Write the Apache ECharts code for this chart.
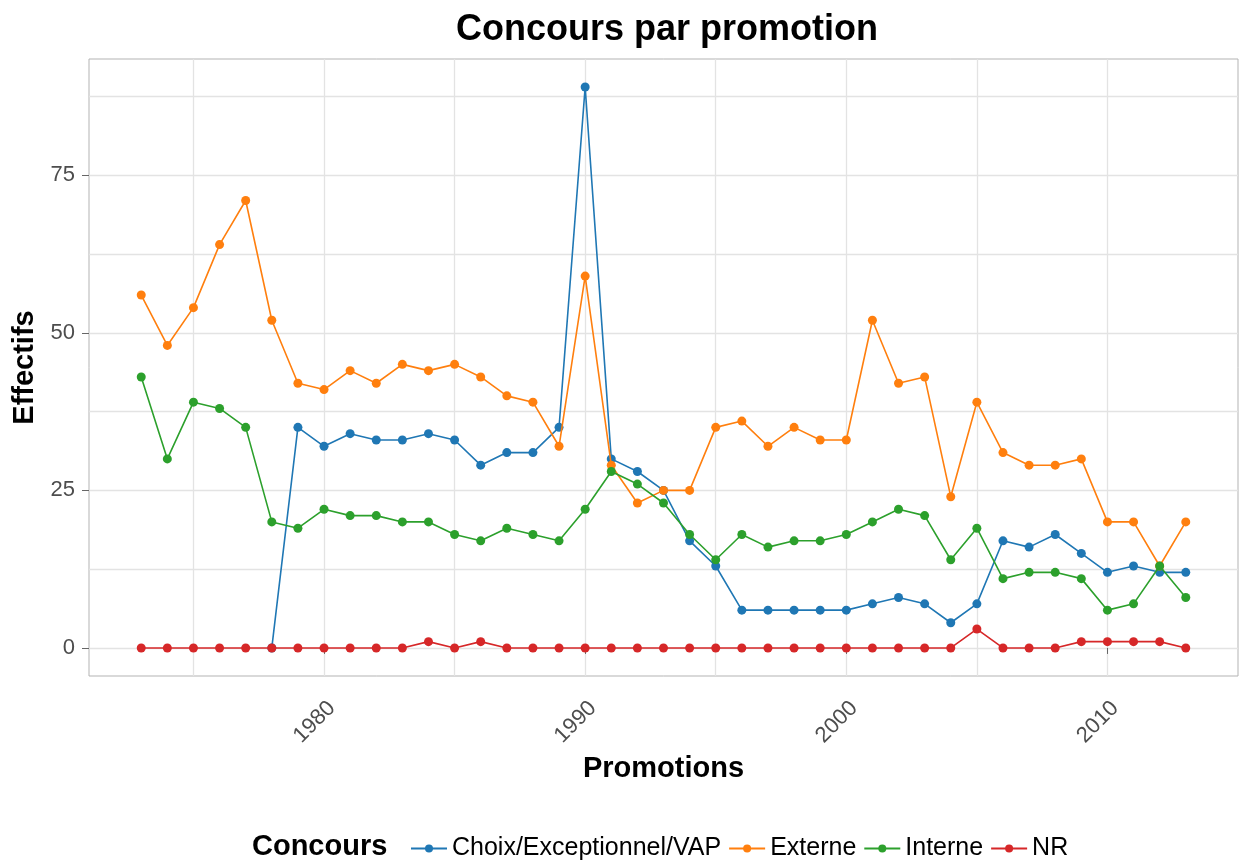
<!DOCTYPE html>
<html>
<head>
<meta charset="utf-8">
<script src="https://cdn.jsdelivr.net/npm/echarts@6/dist/echarts.min.js"></script>
<style>html,body{margin:0;padding:0;background:#fff}#c{width:1239px;height:863px}</style>
</head>
<body>
<div id="c"></div>
<script>
const years = [1973,1974,1975,1976,1977,1978,1979,1980,1981,1982,1983,1984,1985,1986,1987,1988,1989,1990,1991,1992,1993,1994,1995,1996,1997,1998,1999,2000,2001,2002,2003,2004,2005,2006,2007,2008,2009,2010,2011,2012,2013];
const choix = [null,null,null,null,null,0,35,32,34,33,33,34,33,29,31,31,35,89,30,28,25,17,13,6,6,6,6,6,7,8,7,4,7,17,16,18,15,12,13,12,12];
const externe = [56,48,54,64,71,52,42,41,44,42,45,44,45,43,40,39,32,59,29,23,25,25,35,36,32,35,33,33,52,42,43,24,39,31,29,29,30,20,20,13,20];
const interne = [43,30,39,38,35,20,19,22,21,21,20,20,18,17,19,18,17,22,28,26,23,18,14,18,16,17,17,18,20,22,21,14,19,11,12,12,11,6,7,13,8];
const nr = [0,0,0,0,0,0,0,0,0,0,0,1,0,1,0,0,0,0,0,0,0,0,0,0,0,0,0,0,0,0,0,0,3,0,0,0,1,1,1,1,0];
const seriesNames = ['Choix/Exceptionnel/VAP','Externe','Interne','NR'];
const colors = ['#1f77b4','#ff7f0e','#2ca02c','#d62728'];
const xMajorTicks = [1980,1990,2000,2010];
const xGridTicks = [1975,1980,1985,1990,1995,2000,2005,2010];
const yMajorTicks = [0,25,50,75];
const yGridTicks = [0,12.5,25,37.5,50,62.5,75,87.5];

const FONT = 'Liberation Sans, Arial, sans-serif';
const allSeries = [choix, externe, interne, nr];
const chart = echarts.init(document.getElementById('c'), null, {renderer:'canvas'});
const tickColor = '#4d4d4d';
const option = {
  animation: false,
  backgroundColor: '#fff',
  title: [
    {text:'Concours par promotion', left: 662, top: 7, textAlign:'center',
     textStyle:{fontFamily:FONT, fontSize:36, fontWeight:'bold', color:'#000'}},
    {text:'Concours', left: 247, top: 827,
     textStyle:{fontFamily:FONT, fontSize:29, fontWeight:'bold', color:'#000'}}
  ],
  legend: {
    left: 405, top: 831,
    itemWidth: 36, itemHeight: 10, itemGap: 7,
    textStyle:{fontFamily:FONT, fontSize:25, color:'#000'},
    data: seriesNames
  },
  grid: {left: 89, right: 1, top: 59, bottom: 187, show: true, borderColor:'#b3b3b3', borderWidth:1, containLabel:false},
  xAxis: [
    {type:'value', min:1971, max:2015, gridIndex:0, position:'bottom',
     axisLine:{show:false}, axisTick:{show:false, customValues:xGridTicks},
     axisLabel:{show:false},
     splitLine:{show:true, lineStyle:{color:'#e3e3e3', width:1.3}}},
    {type:'value', min:1971, max:2015, gridIndex:0, position:'bottom',
     axisLine:{show:false},
     axisTick:{show:true, length:6, customValues:xMajorTicks, lineStyle:{color:'#666'}},
     axisLabel:{show:true, customValues:xMajorTicks, rotate:45, verticalAlign:'top', fontFamily:FONT, fontSize:22, color:tickColor, margin:21,
       formatter: v => String(v)},
     splitLine:{show:false},
     name:'Promotions', nameLocation:'middle', nameGap:78,
     nameTextStyle:{fontFamily:FONT, fontSize:29, fontWeight:'bold', color:'#000'}}
  ],
  yAxis: [
    {type:'value', min:-4.45, max:93.45, gridIndex:0, position:'left',
     axisLine:{show:false}, axisTick:{show:false, customValues:yGridTicks},
     axisLabel:{show:false},
     splitLine:{show:true, lineStyle:{color:'#e3e3e3', width:1.3}}},
    {type:'value', min:-4.45, max:93.45, gridIndex:0, position:'left',
     axisLine:{show:false},
     axisTick:{show:true, length:7, customValues:yMajorTicks, lineStyle:{color:'#666'}},
     axisLabel:{show:true, customValues:yMajorTicks, fontFamily:FONT, fontSize:22, color:tickColor, margin:14},
     splitLine:{show:false},
     name:'Effectifs', nameLocation:'middle', nameGap:42, nameRotate:90,
     nameTextStyle:{fontFamily:FONT, fontSize:29, fontWeight:'bold', color:'#000'}}
  ],
  series: seriesNames.map((n,i)=>({
    name:n, type:'line', xAxisIndex:0, yAxisIndex:0,
    data: years.map((y,j)=>[y, allSeries[i][j]]),
    symbol:'circle', symbolSize:9, showSymbol:true,
    connectNulls:false,
    itemStyle:{color:colors[i]},
    lineStyle:{color:colors[i], width:1.6},
    z: 2+i
  }))
};
chart.setOption(option);
</script>
</body>
</html>
